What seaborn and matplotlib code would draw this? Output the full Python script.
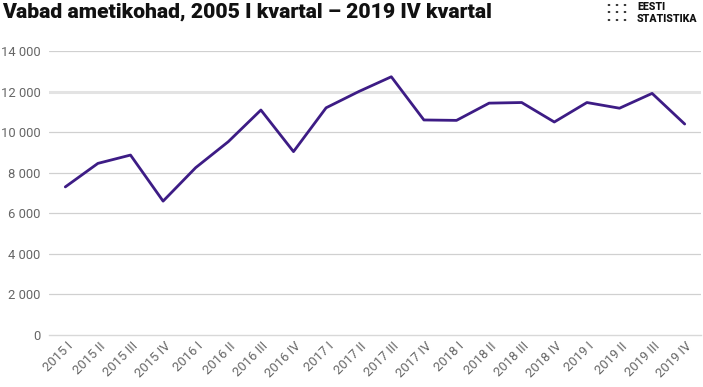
import matplotlib
matplotlib.use("Agg")
import matplotlib.pyplot as plt
import seaborn as sns
import pandas as pd
import numpy as np

quarters = ["2015 I", "2015 II", "2015 III", "2015 IV",
            "2016 I", "2016 II", "2016 III", "2016 IV",
            "2017 I", "2017 II", "2017 III", "2017 IV",
            "2018 I", "2018 II", "2018 III", "2018 IV",
            "2019 I", "2019 II", "2019 III", "2019 IV"]
vacancies = [7300, 8460, 8870, 6600,
             8250, 9530, 11090, 9040,
             11200, 12000, 12730, 10600,
             10580, 11430, 11460, 10500,
             11460, 11180, 11910, 10400]
y_ticks = [0, 2000, 4000, 6000, 8000, 10000, 12000, 14000]
title = "Vabad ametikohad, 2005 I kvartal – 2019 IV kvartal"

sns.set_theme(style="white")
plt.rcParams["font.family"] = ["Roboto", "DejaVu Sans"]

df = pd.DataFrame({"kvartal": quarters, "vabad": vacancies})

fig = plt.figure(figsize=(7.03, 3.87), dpi=100)
ax = fig.add_axes([49/703, 1-335/387, (701-49)/703, (335-51)/387])

sns.lineplot(data=df, x="kvartal", y="vabad", ax=ax, color="#3d1c85",
             linewidth=2.0, sort=False, zorder=3)

ax.set_xlim(-0.5, len(quarters) - 0.5)
ax.set_ylim(0, 14000)
ax.set_yticks(y_ticks)
ax.set_yticklabels([f"{v:,}".replace(",", " ") for v in y_ticks],
                   color="#666666", fontsize=9.4)
for v in y_ticks:
    if v == 0:
        continue
    if v == 12000:
        ax.axhline(v, color="#e3e3e3", linewidth=2.2, zorder=1)
    else:
        ax.axhline(v, color="#d0d0d0", linewidth=0.9, zorder=1)

ax.set_xticks(range(len(quarters)))
ax.set_xticklabels([""] * len(quarters))
for i, q in enumerate(quarters):
    ax.annotate(q, xy=(i, 0), xycoords=("data", "axes fraction"),
                xytext=(4.0, -6.8), textcoords="offset points",
                rotation=45, ha="right", va="center", rotation_mode="anchor",
                color="#666666", fontsize=9.4, annotation_clip=False)
ax.set_xticks(np.arange(-0.5, len(quarters)), minor=True)
ax.tick_params(axis="x", which="major", length=0, pad=2)
ax.tick_params(axis="x", which="minor", length=5, color="#d8d8d8", width=1, direction="out")
ax.tick_params(axis="y", length=0, pad=6)

for s in ["top", "right", "left"]:
    ax.spines[s].set_visible(False)
ax.spines["bottom"].set_color("#d8d8d8")
ax.spines["bottom"].set_linewidth(1.0)
ax.set_xlabel("")
ax.set_ylabel("")

fig.text(2/703, 1-12/387, title, fontsize=15.2, fontweight=900,
         color="#111111", ha="left", va="center")

# logo
for cx in [609, 617, 625]:
    for cy in [5, 12, 20]:
        fig.patches.append(plt.Circle((cx/703, 1-cy/387), 0.0009,
                                      transform=fig.transFigure,
                                      color="#333333"))
fig.text(637/703, 1-7/387, "EESTI", fontsize=7.6, fontweight=900,
         color="#111111", ha="left", va="center")
fig.text(637/703, 1-19/387, "STATISTIKA", fontsize=7.6, fontweight=900,
         color="#111111", ha="left", va="center")

fig.savefig("out.png", dpi=100, facecolor="white")
